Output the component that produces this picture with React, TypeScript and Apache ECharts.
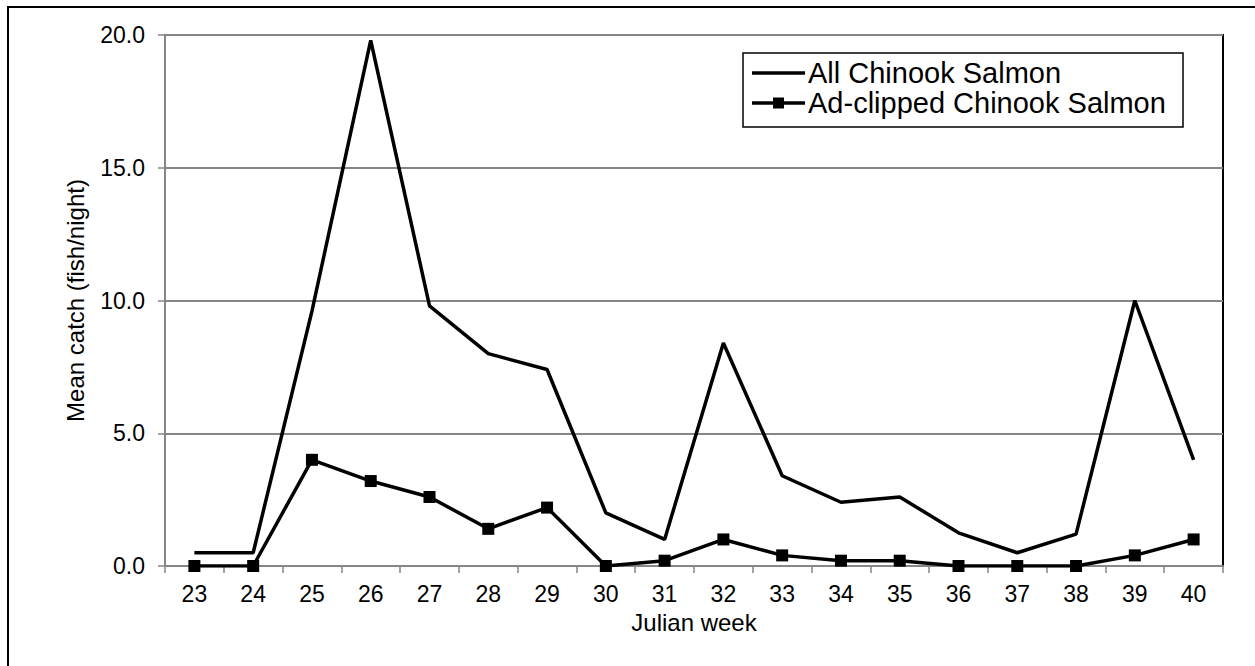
import React, { useEffect, useRef } from "react";
import * as echarts from "echarts";

const weeks = ["23","24","25","26","27","28","29","30","31","32","33","34","35","36","37","38","39","40"];
const allChinook = [0.5, 0.5, 9.6, 19.8, 9.8, 8.0, 7.4, 2.0, 1.0, 8.4, 3.4, 2.4, 2.6, 1.25, 0.5, 1.2, 10.0, 4.0];
const adClipped = [0, 0, 4.0, 3.2, 2.6, 1.4, 2.2, 0, 0.2, 1.0, 0.4, 0.2, 0.2, 0, 0, 0, 0.4, 1.0];
const seriesNames = ["All Chinook Salmon", "Ad-clipped Chinook Salmon"];
const yTicks = { min: 0, max: 20, interval: 5 };

const FONT = '"Liberation Sans", Arial, Helvetica, sans-serif';

export default function App() {
  const ref = useRef<HTMLDivElement>(null);
  useEffect(() => {
    if (!ref.current) return;
    const chart = echarts.init(ref.current, undefined, { renderer: "svg" });

    const lgX = 743, lgY = 53, lgW = 440, lgH = 74;
    const rowY = [lgY + 20, lgY + 50];
    const lineX0 = lgX + 9, lineX1 = lgX + 62, textX = lgX + 65;

    chart.setOption({
      animation: false,
      backgroundColor: "#fff",
      textStyle: { fontFamily: FONT, color: "#000" },
      grid: {
        left: 165, top: 35, right: 32, bottom: 100,
        show: true, borderColor: "#000", borderWidth: 2, backgroundColor: "transparent",
      },
      xAxis: {
        type: "category",
        data: weeks,
        boundaryGap: true,
        name: "Julian week",
        nameLocation: "middle",
        nameGap: 44,
        nameTextStyle: { fontSize: 24, fontFamily: FONT, color: "#000" },
        axisLine: { lineStyle: { color: "#868686", width: 2 } },
        axisTick: { show: true, inside: false, length: 7, alignWithLabel: false, lineStyle: { color: "#868686", width: 1.5 } },
        axisLabel: { fontSize: 23, fontFamily: FONT, color: "#000", margin: 16, interval: 0 },
        splitLine: { show: false },
      },
      yAxis: {
        type: "value",
        min: yTicks.min, max: yTicks.max, interval: yTicks.interval,
        name: "Mean catch (fish/night)",
        nameLocation: "middle",
        nameGap: 78,
        nameTextStyle: { fontSize: 24, fontFamily: FONT, color: "#000" },
        axisLine: { show: true, lineStyle: { color: "#868686", width: 2 } },
        axisTick: { show: true, length: 7, lineStyle: { color: "#868686", width: 1.5 } },
        axisLabel: {
          fontSize: 23, fontFamily: FONT, color: "#000", margin: 20,
          formatter: (v: number) => v.toFixed(1),
        },
        splitLine: { show: true, lineStyle: { color: "#868686", width: 2 } },
      },
      series: [
        {
          name: seriesNames[0],
          type: "line",
          data: allChinook,
          symbol: "none",
          lineStyle: { color: "#000", width: 3.5 },
          itemStyle: { color: "#000" },
          z: 3,
        },
        {
          name: seriesNames[1],
          type: "line",
          data: adClipped,
          symbol: "rect",
          symbolSize: 12,
          lineStyle: { color: "#000", width: 3.5 },
          itemStyle: { color: "#000" },
          z: 4,
        },
      ],
      graphic: [
        {
          type: "rect",
          shape: { x: 8, y: 7, width: 1252, height: 665 },
          style: { fill: "none", stroke: "#000", lineWidth: 2 },
          silent: true,
        },
        {
          type: "rect",
          shape: { x: lgX, y: lgY, width: lgW, height: lgH },
          style: { fill: "#fff", stroke: "#000", lineWidth: 1.5 },
          silent: true, z: 10,
        },
        {
          type: "line",
          shape: { x1: lineX0, y1: rowY[0], x2: lineX1, y2: rowY[0] },
          style: { stroke: "#000", lineWidth: 3.5 },
          silent: true, z: 11,
        },
        {
          type: "text",
          style: { text: seriesNames[0], x: textX, y: rowY[0], fontSize: 29, fontFamily: FONT, fill: "#000", verticalAlign: "middle" },
          silent: true, z: 11,
        },
        {
          type: "line",
          shape: { x1: lineX0, y1: rowY[1], x2: lineX1, y2: rowY[1] },
          style: { stroke: "#000", lineWidth: 3.5 },
          silent: true, z: 11,
        },
        {
          type: "rect",
          shape: { x: (lineX0 + lineX1) / 2 - 5.5, y: rowY[1] - 5.5, width: 11, height: 11 },
          style: { fill: "#000" },
          silent: true, z: 12,
        },
        {
          type: "text",
          style: { text: seriesNames[1], x: textX, y: rowY[1], fontSize: 29, fontFamily: FONT, fill: "#000", verticalAlign: "middle" },
          silent: true, z: 11,
        },
      ],
    });
    return () => chart.dispose();
  }, []);
  return (
    <div style={{ position: "fixed", left: 0, top: 0, width: 1255, height: 666, background: "#fff" }}>
      <div ref={ref} style={{ width: 1255, height: 666 }} />
    </div>
  );
}
